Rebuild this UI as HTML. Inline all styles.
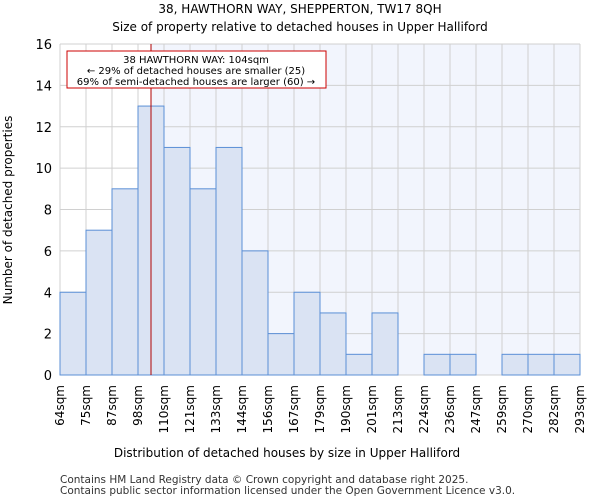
<!DOCTYPE html>
<html><head><meta charset="utf-8"><style>
body{margin:0;background:#fff;font-family:"DejaVu Sans","Liberation Sans",sans-serif}
</style></head><body>
<svg width="600" height="500" xmlns="http://www.w3.org/2000/svg" font-family="DejaVu Sans, Liberation Sans, sans-serif">
<text x="300" y="13" text-anchor="middle" font-size="12">38, HAWTHORN WAY, SHEPPERTON, TW17 8QH</text>
<text x="300" y="31" text-anchor="middle" font-size="12">Size of property relative to detached houses in Upper Halliford</text>
<rect x="60" y="44" width="520" height="331" fill="#fff"/>
<rect id="shade" y="44" height="331" fill="#f2f5fd"/>
<g id="grid"></g>
<g id="bars"></g>
<g id="axes"></g>
<line id="marker" y1="44" y2="375" stroke="#b00000" stroke-width="1"/>
<rect x="67" y="51" width="259" height="37" fill="#fff" stroke="#cc0000" stroke-width="1"/>
<text x="196" y="63" text-anchor="middle" font-size="10">38 HAWTHORN WAY: 104sqm</text>
<text x="196" y="74" text-anchor="middle" font-size="10">← 29% of detached houses are smaller (25)</text>
<text x="196" y="85" text-anchor="middle" font-size="10">69% of semi-detached houses are larger (60) →</text>
<text x="287" y="457" text-anchor="middle" font-size="12">Distribution of detached houses by size in Upper Halliford</text>
<text transform="translate(12,210) rotate(-90)" text-anchor="middle" font-size="12">Number of detached properties</text>
<text x="60" y="483" font-size="10.5" fill="#333">Contains HM Land Registry data © Crown copyright and database right 2025.</text>
<text x="60" y="494" font-size="10.5" fill="#333">Contains public sector information licensed under the Open Government Licence v3.0.</text>
</svg>
<script>
const categories=["64sqm","75sqm","87sqm","98sqm","110sqm","121sqm","133sqm","144sqm","156sqm","167sqm","179sqm","190sqm","201sqm","213sqm","224sqm","236sqm","247sqm","259sqm","270sqm","282sqm","293sqm"];
const counts=[4,7,9,13,11,9,11,6,2,4,3,1,3,0,1,1,0,1,1,1];
const yTicks=[0,2,4,6,8,10,12,14,16];
const binEdges=[64,75,87,98,110,121,133,144,156,167,179,190,201,213,224,236,247,259,270,282,293];
const propertySize=104;
const NS="http://www.w3.org/2000/svg";
const L=60,R=580,T=44,B=375,YMAX=16;
const bw=(R-L)/counts.length;
const xs=i=>L+i*bw;
const ys=v=>B-v/YMAX*(B-T);
function mk(tag,attrs,parent){const e=document.createElementNS(NS,tag);for(const k in attrs)e.setAttribute(k,attrs[k]);document.getElementById(parent).appendChild(e);return e;}
let k=0;while(k<binEdges.length-2&&binEdges[k+1]<=propertySize)k++;
const mx=xs(k)+bw*(propertySize-binEdges[k])/(binEdges[k+1]-binEdges[k]);
const m=document.getElementById('marker');m.setAttribute('x1',mx);m.setAttribute('x2',mx);
const sh=document.getElementById('shade');sh.setAttribute('x',mx);sh.setAttribute('width',R-mx);
yTicks.forEach(t=>{const l=mk('line',{x1:L,x2:R,y1:ys(t),y2:ys(t),stroke:'#d0d0d0','stroke-width':1},'grid');


const tx=mk('text',{x:L-8,y:ys(t)+5,'text-anchor':'end','font-size':13},'axes');tx.textContent=t;

});
categories.forEach((c,i)=>{const l=mk('line',{x1:xs(i),x2:xs(i),y1:T,y2:B,stroke:'#d0d0d0','stroke-width':1},'grid');


const x=xs(i)+4,y=B+10;
const tx=mk('text',{x:x,y:y,transform:`rotate(-90 ${x} ${y})`,'text-anchor':'end','font-size':12},'axes');tx.textContent=c;

});
counts.forEach((v,i)=>{if(v<=0)return;const r=mk('rect',{x:xs(i),y:ys(v),width:bw,height:B-ys(v),fill:'#dae3f3',stroke:'#5b8fd6','stroke-width':1},'bars');

});
</script>
</body></html>
